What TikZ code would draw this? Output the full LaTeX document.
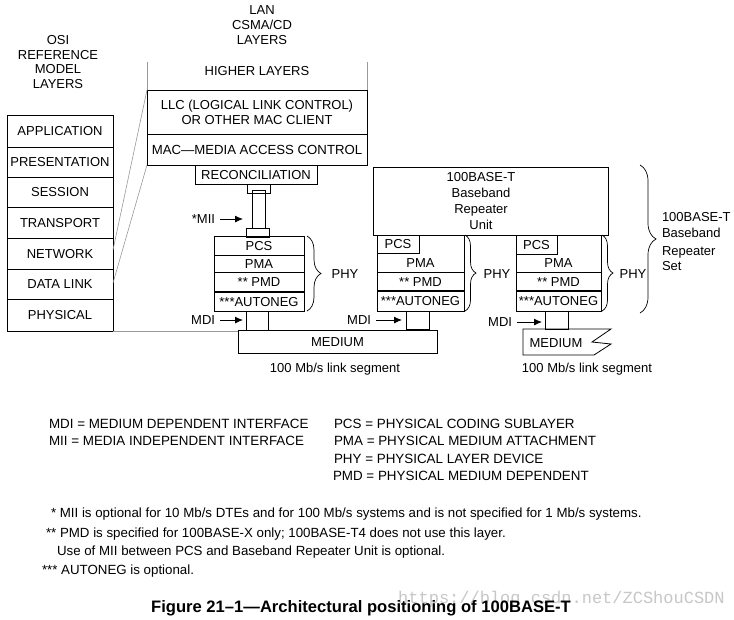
\documentclass[tikz,border=0pt]{standalone}
\usepackage{fontspec}
\setmainfont{Liberation Sans}
\setmonofont{Liberation Mono}
\usetikzlibrary{arrows.meta,decorations.pathreplacing}
\tikzset{
  lay/.style={draw, line width=0.8pt, inner sep=0pt, outer sep=0pt,
    font=\fontsize{13}{15}\selectfont, text height=9.3pt, text depth=0pt},
  lbl/.style={inner sep=0pt, outer sep=0pt, font=\fontsize{13}{15}\selectfont},
  capl/.style={lbl, text height=9.3pt, text depth=0pt},
  legend/.style={inner sep=0pt, outer sep=0pt, anchor=west,
    font=\fontsize{13.4}{15}\selectfont, text height=9.6pt, text depth=0pt},
  foot/.style={inner sep=0pt, outer sep=0pt, anchor=west,
    font=\fontsize{13.3}{15}\selectfont, text height=9.5pt, text depth=0pt},
  grayline/.style={draw=black!40, line width=0.6pt},
  sepline/.style={line width=1.7pt},
  arr/.style={-{Latex[length=8pt,width=7pt]}, line width=0.9pt},
  brc/.style={decorate, decoration={brace, amplitude=#1}, line width=0.7pt},
}
\newcommand\layerbox[7][]{\node[lay,#1,anchor=north west,minimum width=#5pt,minimum height=#6pt] (#2) at (#3,#4) {#7};}
\begin{document}
\begin{tikzpicture}[x=1pt,y=-1pt]
\fill[white] (0,0) rectangle (734,619);
\useasboundingbox (0,0) rectangle (734,619);

% headers
\node[lbl, align=center, font=\fontsize{13}{14.7}\selectfont] (osihdr) at (58,62) {OSI\\REFERENCE\\MODEL\\LAYERS};
\node[lbl, align=center] (lanhdr) at (262,25) {LAN\\CSMA/CD\\LAYERS};

% OSI stack
\layerbox{app}{7}{115}{106}{32}{APPLICATION}
\layerbox{pres}{7}{147}{106}{30}{PRESENTATION}
\layerbox{sess}{7}{177}{106}{30}{SESSION}
\layerbox{trans}{7}{207}{106}{31}{TRANSPORT}
\layerbox{net}{7}{238}{106}{31}{NETWORK}
\layerbox{dl}{7}{269}{106}{30}{DATA LINK}
\layerbox{phys}{7}{299}{106}{32}{PHYSICAL}

% LAN layers
\node[capl] (higher) at (257,71) {HIGHER LAYERS};
\layerbox[align=center,text height=,text depth=]{llc}{147}{90}{220}{44}{LLC (LOGICAL LINK CONTROL)\\OR OTHER MAC CLIENT}
\layerbox[font=\fontsize{13.2}{15}\selectfont]{mac}{147}{134}{220}{31}{MAC---MEDIA ACCESS CONTROL}
\layerbox{recon}{195}{165}{122}{19}{RECONCILIATION}
\coordinate (hlL) at (147,62);
\coordinate (hlR) at (367,62);
\draw[grayline] (hlL) -- (llc.north west);
\draw[grayline] (hlR) -- (llc.north east);

% mapping lines
\coordinate (d1) at (113,250);
\coordinate (d2) at (113,283);
\draw[grayline] (llc.north west) -- (d1);
\draw[grayline] (mac.south west) -- (d2);

% MII connector
\layerbox{miitop}{247}{184}{23}{6}{}
\layerbox{miishaft}{252}{190}{13}{38}{}
\layerbox{miibot}{246}{228}{23}{8}{}
\node[capl, anchor=east] (miilbl) at (215,219) {*MII};
\draw[arr, shorten <=5pt, shorten >=3pt] (miilbl.east) -- (miilbl.east -| miibot.west);

% DTE PHY stack
\layerbox{pcs}{214}{236}{90}{19}{PCS}
\layerbox{pma}{214}{255}{90}{17}{PMA}
\layerbox{pmd}{214}{272}{90}{20}{** PMD}
\layerbox{aut}{214}{292}{90}{19}{***AUTONEG}
\draw[sepline] (pmd.south west) -- (pmd.south east);
\layerbox{tab0}{246}{311}{22}{19}{}
\node[capl, anchor=east] (mdi0) at (215,320) {MDI};
\draw[arr, shorten <=5pt, shorten >=3pt] (mdi0.east) -- (mdi0.east -| tab0.west);
\layerbox{med1}{238}{330}{199}{23}{MEDIUM}
\draw[grayline] (phys.south east) -- (phys.south east -| med1.west);
\draw[brc=14pt] (307,236) -- (307,311);
\node[capl] (phy0) at (345,274) {PHY};
\node[lbl] (seg1) at (335,369) {100 Mb/s link segment};

% Repeater unit
\layerbox{rep}{373}{167}{235}{68}{}
\node[lbl, align=center, font=\fontsize{13}{16}\selectfont] (reptxt) at (481,201) {100BASE-T\\Baseband\\Repeater\\Unit};

% Repeater PHY 1
\layerbox{r1pcs}{377}{235}{42}{18}{PCS}
\layerbox[draw=none]{r1pma}{377}{253}{87}{19}{PMA}
\layerbox{r1pmd}{377}{272}{87}{19}{** PMD}
\layerbox{r1aut}{377}{291}{87}{20}{***AUTONEG}
\draw[line width=0.8pt] (r1pcs.south west) -- (r1pmd.north west);
\draw[line width=0.8pt] (rep.south -| r1pmd.north east) -- (r1pmd.north east);
\draw[sepline] (r1pmd.south west) -- (r1pmd.south east);
\layerbox{r1tab}{406}{311}{23}{18}{}
\node[capl, anchor=east] (mdi1) at (371,320) {MDI};
\draw[arr, shorten <=5pt, shorten >=4pt] (mdi1.east) -- (mdi1.east -| r1tab.west);
\draw[brc=11pt] (465,235) -- (465,311);
\node[capl] (phy1) at (497,274) {PHY};

% Repeater PHY 2
\layerbox{r2pcs}{516}{235}{41}{19}{PCS}
\layerbox[draw=none]{r2pma}{516}{254}{85}{18}{PMA}
\layerbox{r2pmd}{516}{272}{85}{19}{** PMD}
\layerbox{r2aut}{516}{291}{85}{20}{***AUTONEG}
\draw[line width=0.8pt] (r2pcs.south west) -- (r2pmd.north west);
\draw[line width=0.8pt] (rep.south -| r2pmd.north east) -- (r2pmd.north east);
\draw[sepline] (r2pmd.south west) -- (r2pmd.south east);
\layerbox{r2tab}{545}{311}{23}{18}{}
\node[capl, anchor=east] (mdi2) at (512,322) {MDI};
\draw[arr, shorten <=5pt, shorten >=3pt] (mdi2.east) -- (mdi2.east -| r2tab.west);
\draw[brc=11pt] (602,235) -- (602,311);
\node[capl] (phy2) at (633,274) {PHY};
\draw[line width=0.8pt] (523,329) -- (611,329) -- (592,342) -- (611,344) -- (594,355) -- (523,355) -- cycle;
\node[capl] (med2) at (556,343) {MEDIUM};
\node[lbl] (seg2) at (587,369) {100 Mb/s link segment};

% Repeater set brace
\draw[brc=16pt] (640,165) -- (640,313);
\node[lbl, anchor=north west, align=left, font=\fontsize{13}{16}\selectfont] (setlbl) at (662,212.3) {100BASE-T\\Baseband\\[2pt]Repeater\\[-1pt]Set};

% legend
\node[legend] (lg1) at (49,424) {MDI = MEDIUM DEPENDENT INTERFACE};
\node[legend] (lg2) at (49,441) {MII = MEDIA INDEPENDENT INTERFACE};
\node[legend] (lg3) at (334,424) {PCS = PHYSICAL CODING SUBLAYER};
\node[legend] (lg4) at (334,441) {PMA = PHYSICAL MEDIUM ATTACHMENT};
\node[legend] (lg5) at (334,459) {PHY = PHYSICAL LAYER DEVICE};
\node[legend] (lg6) at (333,476) {PMD = PHYSICAL MEDIUM DEPENDENT};

% footnotes
\node[foot] (fn1) at (51,513) {* MII is optional for 10 Mb/s DTEs and for 100 Mb/s systems and is not specified for 1 Mb/s systems.};
\node[foot] (fn2) at (46,533) {** PMD is specified for 100BASE-X only; 100BASE-T4 does not use this layer.};
\node[foot] (fn3) at (57,551) {Use of MII between PCS and Baseband Repeater Unit is optional.};
\node[foot] (fn4) at (42,570) {*** AUTONEG is optional.};

% watermark and caption
\node[inner sep=0pt, anchor=west, text=black!22, font=\ttfamily\fontsize{17}{19}\selectfont] (wm) at (398,599) {https://blog.csdn.net/ZCShouCSDN};
\node[inner sep=0pt, font=\bfseries\fontsize{16.6}{19}\selectfont, text height=11.9pt, text depth=0pt] (caption) at (361,607) {Figure 21--1---Architectural positioning of 100BASE-T};
\end{tikzpicture}
\end{document}
